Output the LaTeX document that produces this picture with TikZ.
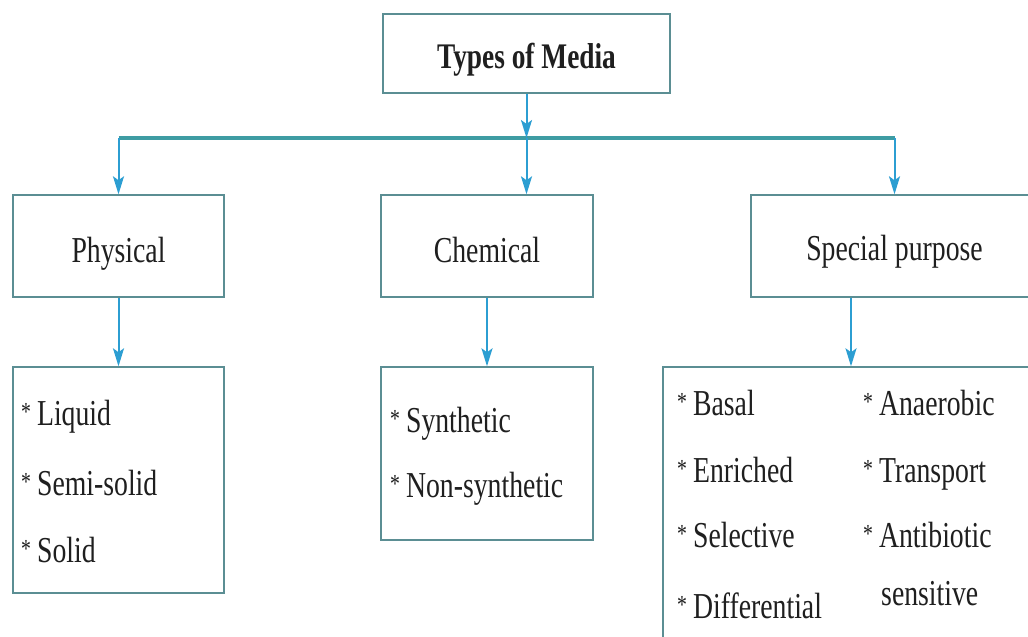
\documentclass[tikz,border=0pt]{standalone}
\usepackage{fontspec}
\setmainfont{Liberation Serif}[FakeStretch=0.76]
\usetikzlibrary{arrows.meta}
\definecolor{boxc}{HTML}{5B8E93}
\definecolor{linec}{HTML}{3E9CA3}
\definecolor{arrc}{HTML}{2C9ED2}
\definecolor{txt}{HTML}{1F1F1F}
\newcommand\starmark{\raisebox{5pt}{\fontsize{26}{30}\selectfont *}\hspace{6pt}}
\begin{document}
\begin{tikzpicture}[x=1pt,y=-1pt,
  box/.style={draw=boxc, line width=1.4pt, fill=white, inner sep=0pt},
  lbl/.style={font=\fontsize{36.5}{40}\selectfont, text=txt, inner sep=0pt},
  ttl/.style={font=\fontsize{36}{40}\selectfont\bfseries, text=txt, inner sep=0pt},
  item/.style={lbl, anchor=base west},
  arr/.style={draw=arrc, line width=2pt, -{Stealth[length=18pt,width=11pt,inset=4pt]}},
  hline/.style={draw=linec, line width=3.5pt}]
\useasboundingbox (0,0) rectangle (1028,637);
\fill[white] (0,0) rectangle (1028,637);
\clip (0,0) rectangle (1028,637);

% boxes
\node[box, minimum width=287pt, minimum height=79pt] (title) at (526.5,53.5) {};
\node[box, minimum width=211pt, minimum height=102pt] (phys) at (118.5,246) {};
\node[box, minimum width=212pt, minimum height=102pt] (chem) at (487,246) {};
\node[box, minimum width=287pt, minimum height=102pt] (spec) at (894.5,246) {};
\node[box, minimum width=211pt, minimum height=226pt] (physList) at (118.5,480) {};
\node[box, minimum width=212pt, minimum height=173pt] (chemList) at (487,453.5) {};
\node[box, minimum width=376pt, minimum height=293pt] (specList) at (851,513.5) {};

% labels
\node[ttl, anchor=base] (titleL) at (526.5,68) {Types of Media};
\node[lbl, anchor=base] (physL) at (118.5,262) {Physical};
\node[lbl, anchor=base] (chemL) at (487,262) {Chemical};
\node[lbl, anchor=base] (specL) at (894.5,260) {Special purpose};

% list items
\node[item] (p1) at (21,425) {\starmark Liquid};
\node[item] (p2) at (21,495) {\starmark Semi-solid};
\node[item] (p3) at (21,562) {\starmark Solid};
\node[item] (c1) at (390,432) {\starmark Synthetic};
\node[item] (c2) at (390,497) {\starmark Non-synthetic};
\node[item] (s1) at (677,415) {\starmark Basal};
\node[item] (s2) at (677,482) {\starmark Enriched};
\node[item] (s3) at (677,547) {\starmark Selective};
\node[item] (s4) at (677,618) {\starmark Differential};
\node[item] (s5) at (863,415) {\starmark Anaerobic};
\node[item] (s6) at (863,482) {\starmark Transport};
\node[item] (s7) at (863,547) {\starmark Antibiotic};
\node[item] (s8) at (881,605) {sensitive};

% connectors
\coordinate (jl) at (118.5,138);
\coordinate (jm) at (526.5,138);
\coordinate (jr) at (894.5,138);
\draw[hline] (jl) -- (jr);
\draw[arr] (title.south) -- (jm);
\draw[arr] (jl) -- (phys.north);
\draw[arr] (jm) -- (jm |- chem.north);
\draw[arr] (jr) -- (spec.north);
\draw[arr] (phys.south) -- (physList.north);
\draw[arr] (chem.south) -- (chemList.north);
\draw[arr] (specList.north |- spec.south) -- (specList.north);
\end{tikzpicture}
\end{document}
